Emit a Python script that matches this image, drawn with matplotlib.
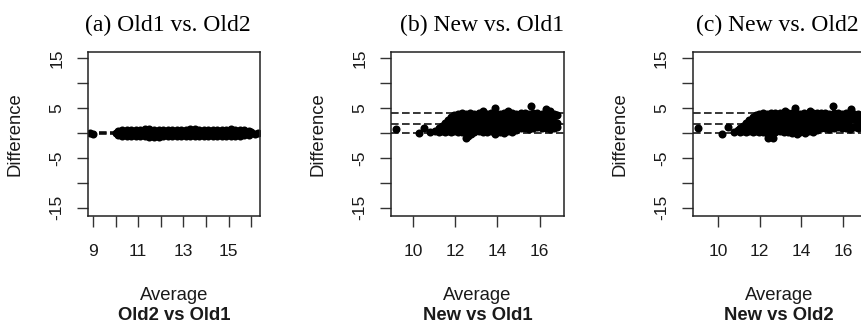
import matplotlib.pyplot as plt

W, H = 862, 327

# ---------------- data ----------------
# (a) Old1 vs Old2
avg_a = [8.85, 9.0,
         10.0, 10.2, 10.4, 10.6, 10.8, 11.0, 11.2, 11.4, 11.6, 11.8, 12.0, 12.2, 12.4, 12.6, 12.8,
         13.0, 13.2, 13.4, 13.6, 13.8, 14.0, 14.2, 14.4, 14.6, 14.8, 15.0, 15.2, 15.4, 15.6, 15.8,
         16.0, 16.15, 16.3,
         10.1, 10.3, 10.5, 10.7, 10.9, 11.1, 11.3, 11.5, 11.7, 11.9, 12.1, 12.3, 12.5, 12.7, 12.9,
         13.1, 13.3, 13.5, 13.7, 13.9, 14.1, 14.3, 14.5, 14.7, 14.9, 15.1, 15.3, 15.5, 15.7, 15.9,
         10.1, 10.3, 10.5, 10.7, 10.9, 11.1, 11.3, 11.5, 11.7, 11.9, 12.1, 12.3, 12.5, 12.7, 12.9,
         13.1, 13.3, 13.5, 13.7, 13.9, 14.1, 14.3, 14.5, 14.7, 14.9, 15.1, 15.3, 15.5, 15.7, 15.9]
diff_a = [0.0, -0.1,
          0.0, 0.1, -0.1, 0.05, 0.0, -0.05, 0.1, 0.0, -0.1, 0.05, 0.0, 0.1, -0.05, 0.0, 0.1,
          -0.1, 0.0, 0.05, -0.05, 0.1, 0.0, -0.1, 0.05, 0.0, 0.1, -0.05, 0.0, 0.05, -0.1, 0.0,
          0.2, -0.15, 0.05,
          0.5, 0.55, 0.6, 0.55, 0.65, 0.7, 0.75, 0.75, 0.65, 0.6, 0.55, 0.65, 0.6, 0.55, 0.65,
          0.6, 0.75, 0.75, 0.7, 0.6, 0.55, 0.65, 0.6, 0.65, 0.55, 0.75, 0.6, 0.55, 0.65, 0.45,
          -0.5, -0.55, -0.6, -0.55, -0.6, -0.65, -0.7, -0.8, -0.8, -0.75, -0.6, -0.55, -0.65, -0.6, -0.55,
          -0.65, -0.6, -0.55, -0.65, -0.6, -0.55, -0.65, -0.6, -0.55, -0.6, -0.65, -0.55, -0.6, -0.45, -0.4]
lines_a = [0.3, 0.0, -0.3]

# (b) New vs Old1
avg_b = [9.2, 10.25, 10.5, 10.8, 11.05, 11.2, 11.2, 11.35, 11.35, 11.5, 11.5, 11.5,
         11.65, 11.65, 11.65, 11.8, 11.8, 11.8, 11.8, 11.95, 11.95, 11.95, 11.95,
         12.1, 12.3, 12.5, 12.7, 12.9, 13.1, 13.3, 13.5, 13.7, 13.9, 14.1, 14.3, 14.5, 14.7, 14.9,
         12.1, 12.3, 12.5, 12.7, 12.9, 13.1, 13.3, 13.5, 13.7, 13.9, 14.1, 14.3, 14.5, 14.7, 14.9,
         12.1, 12.3, 12.5, 12.7, 12.9, 13.1, 13.3, 13.5, 13.7, 13.9, 14.1, 14.3, 14.5, 14.7, 14.9,
         12.2, 12.4, 12.6, 12.8, 13.0, 13.2, 13.4, 13.6, 13.8, 14.0, 14.2, 14.4, 14.6, 14.8, 15.0,
         12.2, 12.4, 12.6, 12.8, 13.0, 13.2, 13.4, 13.6, 13.8, 14.0, 14.2, 14.4, 14.6, 14.8, 15.0,
         15.1, 15.3, 15.5, 15.7, 15.9, 16.1, 16.3, 16.5, 16.7, 16.85,
         15.1, 15.3, 15.5, 15.7, 15.9, 16.1, 16.3, 16.5, 16.7, 16.85,
         15.1, 15.3, 15.5, 15.7, 15.9, 16.1, 16.3, 16.5, 16.7, 16.85,
         15.2, 15.4, 15.6, 15.8, 16.0, 16.2, 16.4, 16.6, 16.8,
         15.2, 15.4, 15.6, 15.8, 16.0, 16.2, 16.4, 16.6, 16.8,
         13.3, 13.86, 14.5, 15.6, 16.3, 16.5, 12.5, 12.6, 12.75, 13.9, 14.3]
diff_b = [0.8, 0.0, 1.1, 0.2, 0.5, 0.2, 1.0, 0.4, 1.4, 0.2, 1.1, 2.0,
          0.5, 1.5, 2.6, 0.2, 1.2, 2.2, 3.2, 0.4, 1.4, 2.5, 3.6,
          0.3, 0.2, 0.4, 0.3, 0.2, 0.4, 0.3, 0.2, 0.4, 0.3, 0.2, 0.4, 0.5, 0.3, 0.6,
          2.1, 2.0, 2.2, 2.1, 2.0, 2.2, 2.1, 2.0, 2.2, 2.1, 2.0, 2.2, 2.1, 2.0, 2.2,
          3.9, 4.0, 3.8, 4.0, 3.9, 4.1, 4.0, 3.9, 4.0, 4.1, 3.9, 4.0, 3.9, 4.0, 3.9,
          1.2, 1.1, 1.3, 1.2, 1.1, 1.3, 1.2, 1.1, 1.3, 1.2, 1.1, 1.3, 1.2, 1.3, 1.4,
          3.0, 2.9, 3.1, 3.0, 2.9, 3.1, 3.0, 2.9, 3.1, 3.0, 2.9, 3.1, 3.0, 2.9, 3.1,
          1.0, 1.1, 0.9, 1.0, 1.2, 1.0, 1.1, 0.9, 1.1, 1.2,
          2.6, 2.5, 2.7, 2.6, 2.5, 2.7, 2.6, 2.4, 2.2, 2.0,
          4.0, 4.1, 3.9, 4.0, 4.1, 3.9, 4.0, 3.9, 3.8, 3.7,
          1.8, 1.7, 1.9, 1.8, 1.7, 1.9, 1.8, 1.6, 1.5,
          3.3, 3.2, 3.4, 3.3, 3.2, 3.4, 3.3, 3.6, 3.7,
          4.4, 5.0, 4.4, 5.4, 4.8, 4.4, -1.1, -0.6, -0.3, -0.1, 0.1]
lines_b = [4.1, 1.8, 0.0]

# (c) New vs Old2
avg_c = [9.04, 10.16, 10.48, 10.75, 10.95, 11.05, 11.05, 11.2, 11.2, 11.35, 11.35, 11.35,
         11.5, 11.5, 11.5, 11.65, 11.65, 11.65, 11.65, 11.8, 11.8, 11.8, 11.8,
         11.95, 12.15, 12.35, 12.55, 12.75, 12.95, 13.15, 13.35, 13.55, 13.75, 13.95, 14.15, 14.35, 14.55, 14.75,
         11.95, 12.15, 12.35, 12.55, 12.75, 12.95, 13.15, 13.35, 13.55, 13.75, 13.95, 14.15, 14.35, 14.55, 14.75,
         11.95, 12.15, 12.35, 12.55, 12.75, 12.95, 13.15, 13.35, 13.55, 13.75, 13.95, 14.15, 14.35, 14.55, 14.75,
         12.05, 12.25, 12.45, 12.65, 12.85, 13.05, 13.25, 13.45, 13.65, 13.85, 14.05, 14.25, 14.45, 14.65, 14.85,
         12.05, 12.25, 12.45, 12.65, 12.85, 13.05, 13.25, 13.45, 13.65, 13.85, 14.05, 14.25, 14.45, 14.65, 14.85,
         14.95, 15.15, 15.35, 15.55, 15.75, 15.95, 16.15, 16.35, 16.55, 16.75, 16.95,
         14.95, 15.15, 15.35, 15.55, 15.75, 15.95, 16.15, 16.35, 16.55, 16.75, 16.95,
         14.95, 15.15, 15.35, 15.55, 15.75, 15.95, 16.15, 16.35, 16.55, 16.75, 16.95,
         15.05, 15.25, 15.45, 15.65, 15.85, 16.05, 16.25, 16.45, 16.65, 16.85,
         15.05, 15.25, 15.45, 15.65, 15.85, 16.05, 16.25, 16.45, 16.65, 16.85,
         13.2, 13.69, 14.4, 15.53, 16.4, 12.4, 12.64, 12.55, 13.8, 14.2]
diff_c = [1.0, -0.3, 1.3, 0.3, 0.6, 0.2, 1.0, 0.4, 1.4, 0.2, 1.1, 2.0,
          0.5, 1.5, 2.6, 0.2, 1.2, 2.2, 3.2, 0.4, 1.4, 2.5, 3.6,
          0.2, 0.3, 0.1, 0.3, 0.2, 0.4, 0.2, 0.3, 0.1, 0.3, 0.2, 0.4, 0.5, 0.3, 0.6,
          2.1, 2.0, 2.2, 2.1, 2.0, 2.2, 2.1, 2.0, 2.2, 2.1, 2.0, 2.2, 2.1, 2.0, 2.2,
          3.9, 4.0, 3.9, 4.0, 4.1, 4.0, 3.9, 4.0, 4.1, 4.0, 3.9, 4.0, 3.9, 4.0, 4.0,
          1.2, 1.1, 1.3, 1.2, 1.1, 1.3, 1.2, 1.1, 1.3, 1.2, 1.1, 1.3, 1.2, 1.3, 1.4,
          3.0, 2.9, 3.1, 3.0, 2.9, 3.1, 3.0, 2.9, 3.1, 3.0, 2.9, 3.1, 3.0, 2.9, 3.1,
          1.0, 1.1, 0.9, 1.0, 1.2, 1.0, 1.1, 0.9, 1.2, 1.1, 1.0,
          2.6, 2.5, 2.7, 2.6, 2.5, 2.7, 2.6, 2.8, 2.9, 2.6, 2.4,
          4.0, 4.1, 3.9, 4.0, 4.1, 3.9, 4.0, 4.1, 3.9, 3.8, 3.6,
          1.8, 1.7, 1.9, 1.8, 1.7, 1.9, 1.8, 1.3, 1.4, 1.7,
          3.3, 3.2, 3.4, 3.3, 3.2, 3.4, 3.3, 3.4, 3.5, 3.2,
          4.4, 5.1, 4.4, 5.4, 4.9, -1.1, -1.1, -0.5, -0.1, 0.1]
lines_c = [4.1, 1.8, 0.0]

titles = ["(a) Old1 vs. Old2", "(b) New vs. Old1", "(c) New vs. Old2"]
subs = ["Old2 vs Old1", "New vs Old1", "New vs Old2"]
title_x = [168, 482, 777]
xticks = [[9, 10, 11, 12, 13, 14, 15, 16], [10, 12, 14, 16], [10, 12, 14, 16]]
xlabels = [["9", "", "11", "", "13", "", "15", ""],
           ["10", "12", "14", "16"], ["10", "12", "14", "16"]]
xlims = [(8.78, 16.39), (8.94, 17.16), (8.77, 17.1)]
yticks = [15, 10, 5, 0, -5, -10, -15]
ylabels = ["15", "", "5", "", "-5", "", "-15"]

# ---------------- drawing ----------------
sans = "Liberation Sans"
serif = "Liberation Serif"
txt = "#1a1a1a"

fig = plt.figure(figsize=(W / 100, H / 100), dpi=100)
box_left = [88, 391, 692.7]
box_w = [172, 173, 173]
top, bottom = 52, 216

data = [(avg_a, diff_a, lines_a), (avg_b, diff_b, lines_b), (avg_c, diff_c, lines_c)]

for i, (avg, diff, lines) in enumerate(data):
    ax = fig.add_axes([box_left[i] / W, 1 - bottom / H, box_w[i] / W, (bottom - top) / H])
    ax.plot(avg, diff, "o", color="black", markersize=5.8, markeredgewidth=0)
    for h in lines:
        ax.axhline(h, color="black", lw=1.1, linestyle=(0, (5, 2.2)))
    ax.set_xlim(*xlims[i])
    ax.set_ylim(-16.7, 16.3)
    ax.set_xticks(xticks[i])
    ax.set_xticklabels(xlabels[i], fontfamily=sans, fontsize=12.5, color=txt)
    ax.set_yticks(yticks)
    ax.set_yticklabels(ylabels, fontfamily=sans, fontsize=12.5, color=txt,
                       rotation=90, va="center")
    ax.tick_params(direction="out", length=8, width=1, color="#333333")
    ax.tick_params(axis="x", pad=12)
    ax.tick_params(axis="y", pad=9)
    for s in ax.spines.values():
        s.set_linewidth(1.1)
        s.set_color("#222222")

    cx = box_left[i] + box_w[i] / 2
    fig.text(title_x[i] / W, 1 - 31 / H, titles[i], fontfamily=serif, fontsize=17,
             ha="center", va="baseline", color="black")
    fig.text(cx / W, 1 - 296 / H, "Average", fontfamily=sans, fontsize=13.3,
             ha="center", va="center", color=txt)
    fig.text(cx / W, 1 - 315 / H, subs[i], fontfamily=sans, fontsize=13.3,
             fontweight="bold", ha="center", va="center", color=txt)
    fig.text((box_left[i] - 73) / W, 1 - 134 / H, "Difference", fontfamily=sans,
             fontsize=13.3, rotation=90, ha="center", va="center", color=txt)

fig.savefig("out.png", dpi=100)
